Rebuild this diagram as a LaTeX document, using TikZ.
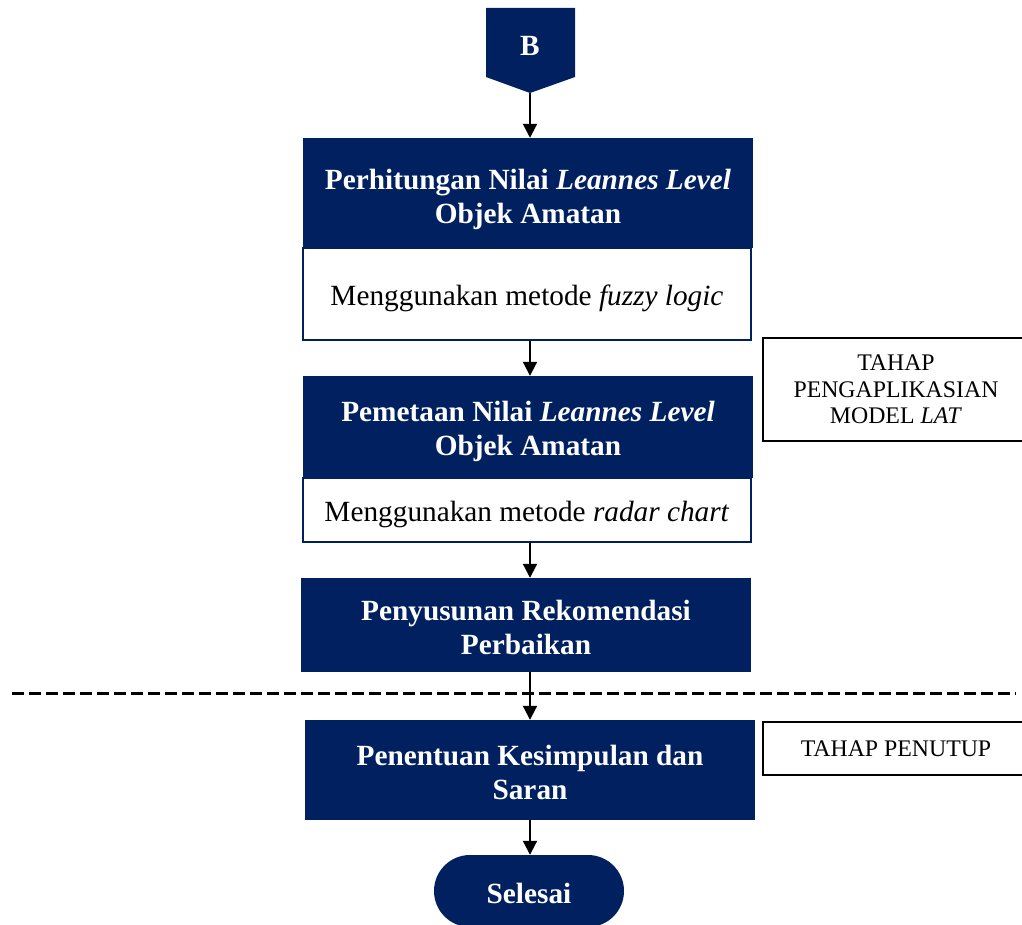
\documentclass[tikz,border=0pt]{standalone}
\usepackage{fontspec}
\setmainfont{Liberation Serif}
\usetikzlibrary{arrows.meta,shapes.misc}
\definecolor{navy}{RGB}{0,32,96}
\begin{document}
\begin{tikzpicture}[x=1pt,y=-1pt,
  darkbox/.style={fill=navy, inner sep=0pt, minimum width=450pt},
  darktext/.style={text=white, font=\fontsize{29.3}{34}\selectfont\bfseries, align=center, inner sep=0pt},
  whitebox/.style={draw=navy, line width=2pt, fill=white, inner sep=0pt, minimum width=448pt},
  whitetext/.style={font=\fontsize{29.3}{34}\selectfont, align=center, inner sep=0pt},
  stagebox/.style={draw=black, line width=1.5pt, fill=white, font=\fontsize{23.8}{26.5}\selectfont, align=center, inner sep=0pt, minimum width=266pt},
  arr/.style={line width=2pt, -{Triangle[width=14pt,length=14pt]}},
  sep/.style={line width=3pt, dash pattern=on 12pt off 5pt}]
\useasboundingbox (0,0) rectangle (1022,925);
% off-page connector B
\fill[navy] (486,8) -- (575,8) -- (575,77) -- (530,93) -- (486,77) -- cycle;
\node[darktext] (B) at (530,46) {B};
\coordinate (Btip) at (530,93);
% process boxes
\node[darkbox, minimum height=110pt] (d1) at (528,193) {};
\node[darktext] (d1t) at ([yshift=-6pt]d1.center) {Perhitungan Nilai \textit{Leannes Level}\\Objek Amatan};
\node[whitebox, minimum height=92pt] (w1) at (527,294) {};
\node[whitetext] (w1t) at ([yshift=-4pt]w1.center) {Menggunakan metode \textit{fuzzy logic}};
\node[darkbox, minimum height=102pt] (d2) at (528,427) {};
\node[darktext] (d2t) at ([yshift=-4pt]d2.center) {Pemetaan Nilai \textit{Leannes Level}\\Objek Amatan};
\node[whitebox, minimum height=64pt] (w2) at (527,510) {};
\node[whitetext] (w2t) at ([yshift=-4pt]w2.center) {Menggunakan metode \textit{radar chart}};
\node[darkbox, minimum height=94pt] (d3) at (526,625) {};
\node[darktext] (d3t) at ([yshift=-2pt]d3.center) {Penyusunan Rekomendasi\\Perbaikan};
\node[darkbox, minimum height=100pt] (d4) at (530,770) {};
\node[darktext] (d4t) at ([yshift=-2pt]d4.center) {Penentuan Kesimpulan dan\\Saran};
\node[rounded rectangle, fill=navy, inner sep=0pt, minimum width=190pt, minimum height=72pt] (end) at (529,891) {};
\node[darktext] (endt) at ([yshift=-2pt]end.center) {Selesai};
% stage labels
\node[stagebox, minimum height=103pt] (t1) at (896,389.5) {TAHAP\\PENGAPLIKASIAN\\MODEL \textit{LAT}};
\node[stagebox, minimum height=53pt] (t2) at (896,748.5) {TAHAP PENUTUP};
% separator
\coordinate (sl) at (12,693);
\coordinate (sr) at (1016,693);
\draw[sep] (sl) -- (sr);
% connectors
\draw[arr] (Btip) -- (Btip |- d1.north);
\draw[arr] (w1.south -| 530,0) -- (d2.north -| 530,0);
\draw[arr] (w2.south -| 530,0) -- (d3.north -| 530,0);
\draw[arr] (d3.south -| 530,0) -- (d4.north -| 530,0);
\draw[arr] (d4.south -| 530,0) -- (end.north -| 530,0);
\end{tikzpicture}
\end{document}
